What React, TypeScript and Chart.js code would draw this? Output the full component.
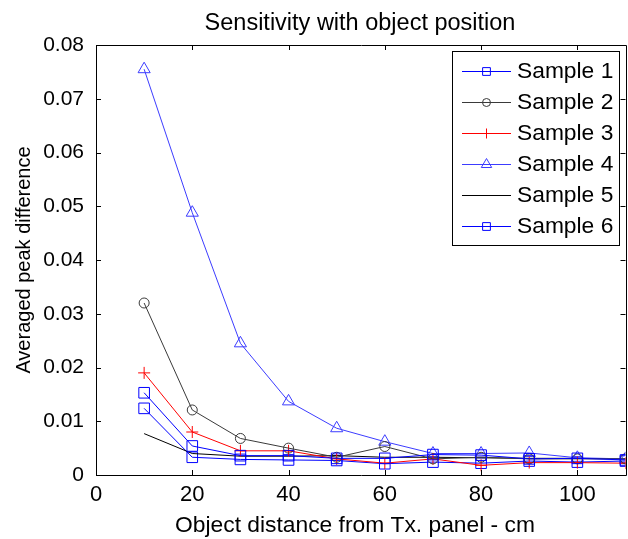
import React, { useEffect, useRef } from "react";
import { Chart, registerables } from "chart.js";
import { drawPoint } from "chart.js/helpers";

Chart.register(...registerables);

const distances = [10, 20, 30, 40, 50, 60, 70, 80, 90, 100, 110];
const sample1 = [0.0153, 0.0054, 0.0036, 0.0036, 0.0031, 0.0031, 0.0038, 0.0037, 0.0030, 0.0031, 0.0028];
const sample2 = [0.0320, 0.0121, 0.0068, 0.0050, 0.0033, 0.0053, 0.0030, 0.0033, 0.0030, 0.0030, 0.0030];
const sample3 = [0.0190, 0.0080, 0.0045, 0.0045, 0.0030, 0.0022, 0.0030, 0.0018, 0.0023, 0.0023, 0.0022];
const sample4 = [0.0755, 0.0488, 0.0245, 0.0137, 0.0087, 0.0062, 0.0040, 0.0040, 0.0041, 0.0032, 0.0030];
const sample5 = [0.0077, 0.0040, 0.0035, 0.0035, 0.0036, 0.0033, 0.0033, 0.0032, 0.0031, 0.0031, 0.0030];
const sample6 = [0.0124, 0.0033, 0.0029, 0.0028, 0.0027, 0.0021, 0.0024, 0.0022, 0.0026, 0.0024, 0.0026];

const seriesNames = ["Sample 1", "Sample 2", "Sample 3", "Sample 4", "Sample 5", "Sample 6"];
const xTicks = [0, 20, 40, 60, 80, 100];
const yTicks = [0, 0.01, 0.02, 0.03, 0.04, 0.05, 0.06, 0.07, 0.08];
const chartTitle = "Sensitivity with object position";
const xTitle = "Object distance from Tx. panel - cm";
const yTitle = "Averaged peak difference";

const FONT = "'Liberation Sans', Arial, sans-serif";

const styles = [
  { color: "#0000ff", pointStyle: "rect", radius: 7.5, legendRadius: 5.5 },
  { color: "#3a3a3a", pointStyle: "circle", radius: 5, legendRadius: 4 },
  { color: "#ff0000", pointStyle: "cross", radius: 6, legendRadius: 5 },
  { color: "#3c3cff", pointStyle: "triangle", radius: 7, legendRadius: 6 },
  { color: "#000000", pointStyle: "circle", radius: 0, legendRadius: 0 },
  { color: "#0000ff", pointStyle: "rect", radius: 7.5, legendRadius: 5.5 },
];

const allSeries = [sample1, sample2, sample3, sample4, sample5, sample6];

const framePlugin = {
  id: "matlabFrame",
  afterDatasetsDraw(chart: any) {
    const { ctx, chartArea } = chart;
    const { left, right, top, bottom } = chartArea;
    const xs = chart.scales.x;
    const ys = chart.scales.y;
    ctx.save();
    ctx.strokeStyle = "#000";
    ctx.lineWidth = 1;
    ctx.beginPath();
    ctx.rect(Math.round(left) + 0.5, Math.round(top) + 0.5, Math.round(right - left), Math.round(bottom - top));
    ctx.stroke();
    const tl = 5;
    ctx.beginPath();
    xTicks.forEach((v) => {
      const px = Math.round(xs.getPixelForValue(v)) + 0.5;
      ctx.moveTo(px, bottom);
      ctx.lineTo(px, bottom - tl);
      ctx.moveTo(px, top);
      ctx.lineTo(px, top + tl);
    });
    yTicks.forEach((v) => {
      const py = Math.round(ys.getPixelForValue(v)) + 0.5;
      ctx.moveTo(left, py);
      ctx.lineTo(left + tl, py);
      ctx.moveTo(right, py);
      ctx.lineTo(right - tl, py);
    });
    ctx.stroke();
    ctx.restore();
  },
  afterDraw(chart: any) {
    const { ctx } = chart;
    ctx.save();
    ctx.fillStyle = "#000";
    ctx.textAlign = "center";
    ctx.textBaseline = "alphabetic";
    ctx.font = `23.5px ${FONT}`;
    ctx.fillText(chartTitle, 360, 29.5);
    ctx.font = `22.8px ${FONT}`;
    ctx.fillText(xTitle, 355, 531.5);

    const bx = 452.5, by = 51.5, bw = 167, bh = 194;
    ctx.fillStyle = "#fff";
    ctx.fillRect(bx, by, bw, bh);
    ctx.strokeStyle = "#000";
    ctx.lineWidth = 1;
    ctx.strokeRect(bx, by, bw, bh);
    chart.data.datasets.forEach((ds: any, i: number) => {
      const y = 71 + 31 * i;
      ctx.strokeStyle = ds.borderColor;
      ctx.lineWidth = 1;
      ctx.beginPath();
      ctx.moveTo(462, y + 0.5);
      ctx.lineTo(511, y + 0.5);
      ctx.stroke();
      const st = styles[i];
      if (st.legendRadius > 0) {
        ctx.strokeStyle = ds.borderColor;
        ctx.fillStyle = "rgba(0,0,0,0)";
        ctx.lineWidth = 1;
        drawPoint(ctx, { pointStyle: st.pointStyle, radius: st.legendRadius, borderWidth: 1, rotation: 0 } as any, 486.5, y + 0.5);
      }
      ctx.fillStyle = "#000";
      ctx.font = `22.8px ${FONT}`;
      ctx.textAlign = "left";
      ctx.textBaseline = "middle";
      ctx.fillText(ds.label, 517, y + 1);
    });
    ctx.restore();
  },
};

export default function App() {
  const canvasRef = useRef<HTMLCanvasElement | null>(null);

  useEffect(() => {
    const canvas = canvasRef.current;
    if (!canvas) return;
    const datasets = allSeries.map((vals, i) => ({
      label: seriesNames[i],
      data: distances.map((d, j) => ({ x: d, y: vals[j] })),
      borderColor: styles[i].color,
      backgroundColor: "rgba(0,0,0,0)",
      pointBackgroundColor: "rgba(0,0,0,0)",
      pointBorderColor: styles[i].color,
      pointStyle: styles[i].pointStyle,
      pointRadius: styles[i].radius,
      pointBorderWidth: 1,
      borderWidth: 1,
      tension: 0,
      fill: false,
    }));
    const chart = new Chart(canvas, {
      type: "line",
      data: { datasets },
      plugins: [framePlugin],
      options: {
        animation: false,
        responsive: false,
        devicePixelRatio: 1,
        layout: { padding: { left: 0, right: 2, top: 45, bottom: 0 } },
        plugins: {
          legend: { display: false },
          tooltip: { enabled: false },
          title: { display: false },
        },
        scales: {
          x: {
            type: "linear",
            min: 0,
            max: 110,
            grid: { display: false, drawTicks: false },
            border: { display: false },
            afterBuildTicks: (s: any) => {
              s.ticks = xTicks.map((v) => ({ value: v }));
            },
            afterFit: (s: any) => {
              s.height = 64;
              s.paddingLeft = 0;
              s.paddingRight = 0;
            },
            ticks: {
              color: "#000",
              padding: 7,
              maxRotation: 0,
              font: { family: FONT, size: 22 },
              callback: (v: any) => String(v),
            },
          },
          y: {
            type: "linear",
            min: 0,
            max: 0.08,
            grid: { display: false, drawTicks: false },
            border: { display: false },
            afterBuildTicks: (s: any) => {
              s.ticks = yTicks.map((v) => ({ value: v }));
            },
            afterFit: (s: any) => {
              s.width = 96;
              s.paddingTop = 0;
              s.paddingBottom = 0;
            },
            ticks: {
              color: "#000",
              padding: 12,
              font: { family: FONT, size: 21 },
              callback: (v: any) => (v === 0 ? "0" : Number(v).toFixed(2)),
            },
            title: {
              display: true,
              text: yTitle,
              color: "#000",
              font: { family: FONT, size: 20 },
              padding: { top: 12, bottom: 0 },
            },
          },
        },
      },
    });
    return () => chart.destroy();
  }, []);

  return (
    <div style={{ position: "fixed", left: 0, top: 0, width: 628, height: 539, overflow: "hidden", background: "#fff" }}>
      <div style={{ position: "absolute", left: 0, top: 0, width: 634, height: 539 }}>
        <canvas ref={canvasRef} width={634} height={539} style={{ display: "block", width: 634, height: 539 }} />
      </div>
    </div>
  );
}
